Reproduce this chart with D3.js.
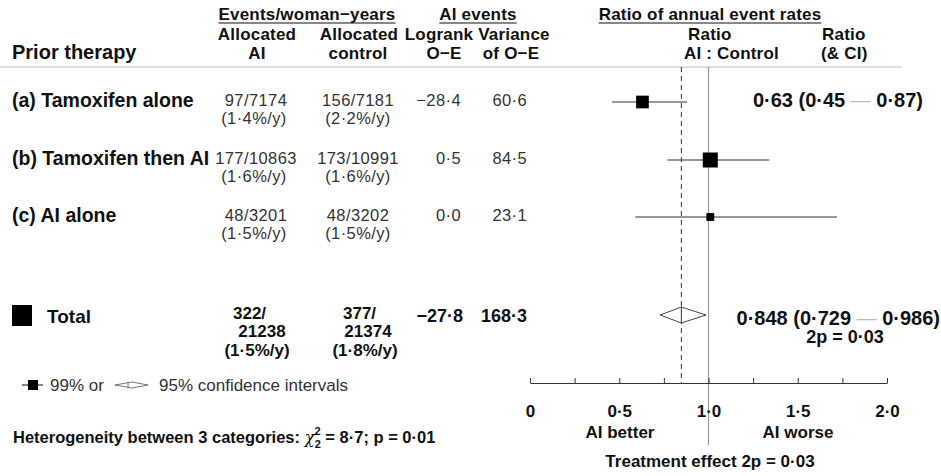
<!doctype html>
<html lang="en">
<head>
<meta charset="utf-8">
<title>Prior therapy forest plot</title>
<script src="https://cdn.jsdelivr.net/npm/d3@7"></script>
<style>
  body { margin: 0; background: #fff; }
  svg { font-family: "Liberation Sans", Arial, sans-serif; }
</style>
</head>
<body>
<script>
// ---- data ----
var categories = ["(a) Tamoxifen alone", "(b) Tamoxifen then AI", "(c) AI alone"];
var aiEvents = ["97/7174", "177/10863", "48/3201"];
var aiRates = ["(1·4%/y)", "(1·6%/y)", "(1·5%/y)"];
var ctrlEvents = ["156/7181", "173/10991", "48/3202"];
var ctrlRates = ["(2·2%/y)", "(1·6%/y)", "(1·5%/y)"];
var logrankOE = [-28.4, 0.5, 0.0];
var varianceOE = [60.6, 84.5, 23.1];
var ratio = [0.63, 1.01, 1.01];
var ciLow = [0.46, 0.77, 0.59];
var ciHigh = [0.88, 1.34, 1.72];
var ratioLabels = ["0·63 (0·45 ", "", ""];
var ratioLabelsEnd = ["0·87)", "", ""];

var totalAI = ["322/", "21238", "(1·5%/y)"];
var totalCtrl = ["377/", "21374", "(1·8%/y)"];
var totalOE = -27.8;
var totalVar = 168.3;
var totalRatio = 0.848;
var totalCI = [0.729, 0.986];

var tickValues = [0, 0.25, 0.5, 0.75, 1, 1.25, 1.5, 1.75, 2];
var tickLabels = ["0", "", "0·5", "", "1·0", "", "1·5", "", "2·0"];

var W = 941, H = 476;
var fmt = v => d3.format(".1f")(v).replace(".", "·").replace("-", "−");

var svg = d3.select("body").append("svg")
    .attr("width", W).attr("height", H);

var x = d3.scaleLinear().domain([0, 2]).range([530, 887]);
var boxSize = d3.scaleSqrt().domain([0, 84.5]).range([0, 15]);

var rowY = [102, 160, 217];
var totalY = 315;
var axisY = 383;
var ink = "#111";

function label(t, xx, yy, anchor, size, bold, fill) {
    return svg.append("text").text(t)
        .attr("x", xx).attr("y", yy)
        .attr("text-anchor", anchor || "middle")
        .attr("font-size", size)
        .attr("font-weight", bold ? "bold" : "normal")
        .attr("fill", fill || ink);
}

// header
function headText(t, xx, yy, anchor, underline) {
    var el = label(t, xx, yy, anchor, 17, true).attr("letter-spacing", 0.2);
    if (underline) {
        var b = el.node().getBBox();
        svg.append("line")
            .attr("x1", b.x).attr("x2", b.x + b.width)
            .attr("y1", yy + 3).attr("y2", yy + 3)
            .attr("stroke", ink).attr("stroke-width", 1.2);
    }
    return el;
}
headText("Events/woman−years", 307, 20, "middle", true);
headText("AI events", 478, 20, "middle", true);
headText("Ratio of annual event rates", 710, 20, "middle", true);
headText("Allocated", 257, 40);
headText("AI", 257, 59);
headText("Allocated", 359, 40);
headText("control", 358, 59);
headText("Logrank", 439, 40);
headText("O−E", 444, 59);
headText("Variance", 514, 40);
headText("of O−E", 511, 59);
headText("Ratio", 688, 40, "start");
headText("AI : Control", 684, 59, "start");
headText("Ratio", 822, 40, "start");
headText("(& CI)", 821, 59, "start");
label("Prior therapy", 12, 59, "start", 20, true);

svg.append("line")
    .attr("x1", 0).attr("x2", 902)
    .attr("y1", 67).attr("y2", 67)
    .attr("stroke", "#bbb").attr("stroke-width", 1);

// reference lines
svg.append("line")
    .attr("x1", x(1)).attr("x2", x(1))
    .attr("y1", 67).attr("y2", 445)
    .attr("stroke", "#999").attr("stroke-width", 1.2);
svg.append("line")
    .attr("x1", x(totalRatio)).attr("x2", x(totalRatio))
    .attr("y1", 67).attr("y2", axisY)
    .attr("stroke", "#333").attr("stroke-width", 1)
    .attr("stroke-dasharray", "5,4");

// rows
var rows = svg.selectAll("g.row")
    .data(categories)
    .enter().append("g")
    .attr("class", "row")
    .attr("transform", (_, i) => "translate(0," + rowY[i] + ")");

rows.append("text")
    .text(d => d)
    .attr("x", 12).attr("y", 5)
    .attr("font-size", 19.5).attr("font-weight", "bold").attr("fill", ink);

function cell(sel, arr, xx, dy, anchor) {
    sel.append("text")
        .text((_, i) => arr[i])
        .attr("x", xx).attr("y", dy)
        .attr("text-anchor", anchor)
        .attr("font-size", 16.5)
        .attr("letter-spacing", 0.4)
        .attr("fill", "#333");
}
cell(rows, aiEvents, 256, 4, "middle");
cell(rows, aiRates, 254, 22, "middle");
cell(rows, ctrlEvents, 358, 4, "middle");
cell(rows, ctrlRates, 358, 22, "middle");
cell(rows, logrankOE.map(fmt), 461, 4, "end");
cell(rows, varianceOE.map(fmt), 527, 4, "end");

rows.append("line")
    .attr("x1", (_, i) => x(ciLow[i]))
    .attr("x2", (_, i) => x(ciHigh[i]))
    .attr("y1", 0).attr("y2", 0)
    .attr("stroke", "#333").attr("stroke-width", 1.2);

rows.append("rect")
    .attr("x", (_, i) => x(ratio[i]) - boxSize(varianceOE[i]) / 2)
    .attr("y", (_, i) => -boxSize(varianceOE[i]) / 2)
    .attr("width", (_, i) => boxSize(varianceOE[i]))
    .attr("height", (_, i) => boxSize(varianceOE[i]))
    .attr("fill", "#000");

var rl = rows.append("text")
    .attr("x", 923).attr("y", 5)
    .attr("text-anchor", "end")
    .attr("font-size", 20).attr("font-weight", "bold").attr("fill", ink);
rl.append("tspan").text((_, i) => ratioLabels[i]);
rl.append("tspan").text((_, i) => ratioLabels[i] ? "— " : "").attr("fill", "#bbb").attr("font-weight", "normal");
rl.append("tspan").text((_, i) => ratioLabelsEnd[i]);

// total row
svg.append("rect")
    .attr("x", 12).attr("y", totalY - 10)
    .attr("width", 20).attr("height", 21)
    .attr("fill", "#000");
label("Total", 47, totalY + 8, "start", 19, true);

var totalLines = [4, 22, 41];
totalAI.forEach(function(t, i) {
    label(t, i == 0 ? 233 : (i == 1 ? 262 : 257), totalY + totalLines[i],
          i == 0 ? "start" : "middle", 17, true);
});
totalCtrl.forEach(function(t, i) {
    label(t, i == 0 ? 343 : (i == 1 ? 368 : 365), totalY + totalLines[i],
          i == 0 ? "start" : "middle", 17, true);
});
label(fmt(totalOE), 463, totalY + 7, "end", 18, true);
label(fmt(totalVar), 527, totalY + 7, "end", 18, true);

var dm = [[x(totalCI[0]), totalY], [x(totalRatio), totalY - 8],
          [x(totalCI[1]), totalY], [x(totalRatio), totalY + 8]];
svg.append("path")
    .attr("d", d3.line()(dm) + "Z")
    .attr("fill", "#fff").attr("stroke", "#444").attr("stroke-width", 1);
svg.append("line")
    .attr("x1", x(totalRatio)).attr("x2", x(totalRatio))
    .attr("y1", totalY - 8).attr("y2", totalY + 8)
    .attr("stroke", "#333").attr("stroke-width", 1);

var f3 = v => d3.format(".3f")(v).replace(".", "·");
var tl = label("", 940, totalY + 10, "end", 20, true);
tl.append("tspan").text(f3(totalRatio) + " (" + f3(totalCI[0]) + " ");
tl.append("tspan").text("— ").attr("fill", "#bbb").attr("font-weight", "normal");
tl.append("tspan").text(f3(totalCI[1]) + ")");
label("2p = 0·03", 845, totalY + 28, "middle", 18, true);

// axis
var axis = svg.append("g")
    .attr("transform", "translate(0," + axisY + ")")
    .call(d3.axisBottom(x)
        .tickValues(tickValues)
        .tickSizeInner(-5).tickSizeOuter(0)
        .tickPadding(22)
        .tickFormat((_, i) => tickLabels[i]));
axis.select(".domain").attr("stroke", "#333").attr("stroke-width", 1.2);
axis.selectAll(".tick line").attr("stroke", "#333");
axis.selectAll(".tick text")
    .attr("font-family", "Liberation Sans, Arial, sans-serif")
    .attr("font-size", 17).attr("font-weight", "bold").attr("fill", ink);

label("AI better", 620, 438, "middle", 17, true);
label("AI worse", 798, 438, "middle", 17, true);
label("Treatment effect 2p = 0·03", 710, 467, "middle", 17, true);

// legend
var ly = 385;
svg.append("line").attr("x1", 22).attr("x2", 43).attr("y1", ly).attr("y2", ly)
    .attr("stroke", "#333").attr("stroke-width", 1.2);
svg.append("rect").attr("x", 28).attr("y", ly - 5).attr("width", 10).attr("height", 10).attr("fill", "#000");
label("99% or", 50, ly + 6, "start", 17, false, "#333");
svg.append("path")
    .attr("d", d3.line()([[115, ly], [132, ly - 3], [148, ly], [132, ly + 3]]) + "Z")
    .attr("fill", "#fff").attr("stroke", "#555").attr("stroke-width", 0.8);
svg.append("line").attr("x1", 128).attr("x2", 128).attr("y1", ly - 3).attr("y2", ly + 3)
    .attr("stroke", "#555").attr("stroke-width", 0.8);
label("95% confidence intervals", 159, ly + 6, "start", 17, false, "#333");

var het = label("", 13, 443, "start", 16.5, true);
het.append("tspan").text("Heterogeneity between 3 categories: ");
het.append("tspan").text("χ").attr("font-family", "DejaVu Serif")
    .attr("font-style", "italic").attr("font-weight", "normal");
het.append("tspan").text("2").attr("font-size", 11).attr("dy", -8);
het.append("tspan").text("2").attr("font-size", 11).attr("dx", -6.1).attr("dy", 13);
het.append("tspan").text(" = 8·7; p = 0·01").attr("dy", -5);
</script>
</body>
</html>
